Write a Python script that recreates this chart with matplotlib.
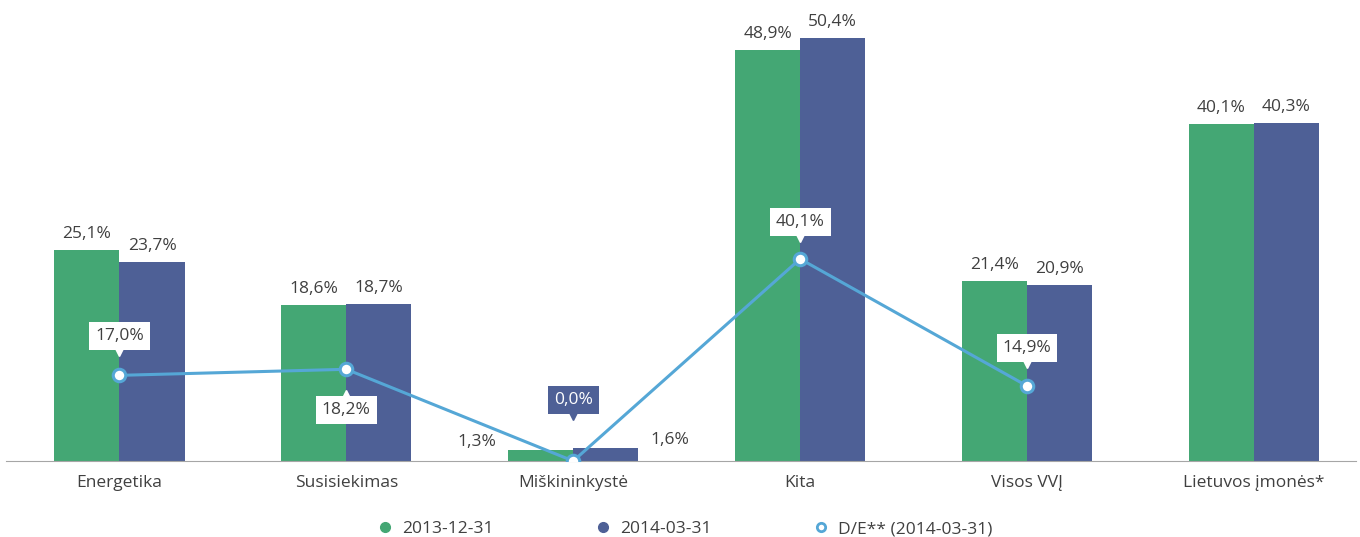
import matplotlib.pyplot as plt
import numpy as np
from matplotlib.transforms import offset_copy

plt.rcParams['font.family'] = ['Open Sans', 'DejaVu Sans']

categories = ['Energetika', 'Susisiekimas', 'Miškininkystė', 'Kita', 'Visos VVĮ', 'Lietuvos įmonės*']
s2013 = [25.1, 18.6, 1.3, 48.9, 21.4, 40.1]
s2014 = [23.7, 18.7, 1.6, 50.4, 20.9, 40.3]
de_2014 = [17.0, 18.2, 0.0, 40.1, 14.9]
labels_legend = ['2013-12-31', '2014-03-31', 'D/E** (2014-03-31)']

green = '#44A774'
blue = '#4E6096'
line_c = '#55A7D6'
txt_c = '#404040'
fs = 12.5

fig = plt.figure(figsize=(13.6, 5.37), dpi=100)
ax = fig.add_axes([6 / 1360, 76 / 537, 1350 / 1360, 456 / 537])
ax2 = ax.twinx()

x = np.arange(len(categories))
w = 0.287
ax.bar(x - w / 2, s2013, w, color=green, label=labels_legend[0])
ax.bar(x + w / 2, s2014, w, color=blue, label=labels_legend[1])

ax.set_xlim(-0.5, 5.45)
ax.set_ylim(0, 54.3)
ax2.set_ylim(0, 90.5)

# bar value labels
for i in range(len(categories)):
    for val, xo, side in ((s2013[i], x[i] - w / 2, -1), (s2014[i], x[i] + w / 2, 1)):
        t = f'{val:.1f}%'.replace('.', ',')
        if val < 5:
            ax.annotate(t, (xo + side * w / 2, val), xytext=(side * 12, 8),
                        textcoords='offset pixels', ha='right' if side < 0 else 'left',
                        va='center', fontsize=fs, color=txt_c)
        else:
            ax.annotate(t, (xo, val), xytext=(0, 8), textcoords='offset pixels',
                        ha='center', va='bottom', fontsize=fs, color=txt_c)

# D/E line
xl = x[:len(de_2014)]
ax2.plot(xl, de_2014, color=line_c, lw=2.2, marker='o', ms=9, mfc='white',
         mec=line_c, mew=2.2, zorder=5, label=labels_legend[2])

offsets = [39, -41, 61, 37, 38]
for i, (xi, v) in enumerate(zip(xl, de_2014)):
    t = f'{v:.1f}%'.replace('.', ',')
    dy = offsets[i]
    fc = blue if v == 0 else 'white'
    tc = 'white' if v == 0 else txt_c
    ax2.annotate(t, (xi, v), xytext=(0, dy), textcoords='offset pixels',
                 ha='center', va='center', fontsize=fs, color=tc, zorder=6,
                 bbox=dict(boxstyle='square,pad=0.35', fc=fc, ec='none'))
    # small callout pointer
    if dy > 0:
        tr = offset_copy(ax2.transData, fig=fig, x=0, y=dy - 16, units='dots')
        ax2.plot(xi, v, marker='v', ms=6, color=fc, transform=tr, zorder=6)
    else:
        tr = offset_copy(ax2.transData, fig=fig, x=0, y=dy + 16, units='dots')
        ax2.plot(xi, v, marker='^', ms=6, color=fc, transform=tr, zorder=6)

for a in (ax, ax2):
    for s in ('top', 'right', 'left'):
        a.spines[s].set_visible(False)
    a.set_yticks([])
ax2.spines['bottom'].set_visible(False)
ax.spines['bottom'].set_color('#A6A6A6')
ax.set_xticks(x)
ax.set_xticklabels(categories, fontsize=fs, color=txt_c)
ax.tick_params(axis='x', length=0, pad=10)

handles = [
    plt.Line2D([], [], ls='', marker='o', ms=7, color=green),
    plt.Line2D([], [], ls='', marker='o', ms=7, color=blue),
    plt.Line2D([], [], ls='', marker='o', ms=6, mfc='white', mec=line_c, mew=2),
]
fig.legend(handles, labels_legend, loc='lower center', bbox_to_anchor=(0.5, -0.03),
           ncol=3, frameon=False, fontsize=fs, columnspacing=5.3, handletextpad=0.0,
           labelcolor=txt_c)

fig.savefig('out.png', dpi=100)
